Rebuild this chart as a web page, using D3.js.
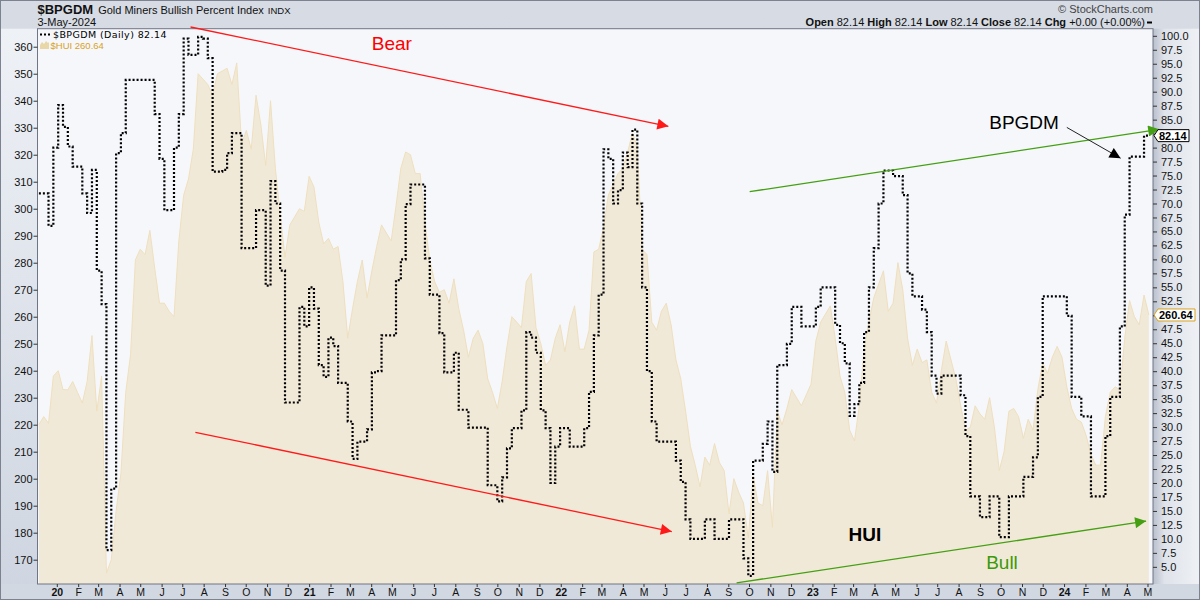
<!DOCTYPE html>
<html><head><meta charset="utf-8">
<script src="https://cdn.jsdelivr.net/npm/d3@7"></script>
<style>body{margin:0;background:#fff}svg{display:block}</style>
</head><body>
<svg id="c" width="1200" height="600"></svg>
<script>
// ---------- DATA (weekly closes, first week ending 2019-12-06) ----------
const firstWeek = "2019-12-06";
const bpgdm = [
71.8,71.8,66,80,87.6,83.7,80.2,76.6,76.6,71.8,
68.3,76,58,52,8,19,79,82.6,92.1,92.1,
92.1,92.1,92.1,92.1,86,78,68.8,68.8,80,86,
99.5,96.6,96.6,99.8,99.5,96,75.7,75.7,76,79,
82.6,82.6,62,62,62,68.8,68.8,55.3,74,70,
58,34.4,34.4,34.4,51.5,48,55,51.2,41.1,39,
46,44.5,37.9,37.9,31,24.3,27.4,27.4,29.6,39.8,
40,46.4,46.4,46.4,56.3,60,69.9,73.4,73.4,73.4,
60.2,53.7,53.7,46.8,39.8,39.8,43.3,33.1,33.1,29.9,
29.9,29.9,29.9,19.6,19.6,16.7,21,26.2,29.8,29.8,
33,47,46,43.3,33,29.8,20,26.5,29.8,29.8,
26.5,26.5,26.5,29.8,36.3,46.4,53.7,79.7,78,70,
72.4,79.1,76.5,83.2,70,55,40,31,27.4,27.4,
27.4,27.4,24,20.2,13.5,10,10,10,13.5,13.5,
10,10,10,13.5,13.5,13.5,6.5,3.4,24,24,
27,31,22,41.1,41.1,44.9,51.5,51.5,48,48,
48,51.5,55,55,55,48.3,45,41.4,32,34.1,
37.9,47,55,62,70,75.9,75.9,74.9,74.9,71.5,
57.5,53.4,53.4,51,47,39.2,36,39.2,39.2,39.2,
39.2,35.7,28.4,17.6,17.6,13.9,13.9,17.6,17.6,10.3,
10.3,17.6,17.6,17.6,21.1,21.1,24.6,35.4,53.4,53.4,
53.4,53.4,53.4,49.9,35.4,35.4,31.9,31.9,17.6,17.6,
17.6,28.4,35.4,35.4,48,68,78.4,78.4,78.4,82.14,
82.14];
const hui = [
220,223,220.5,238,240,233,232.9,236,232,228,
236,253,225,238,165,170,188,202,232,246,
281,285,283,292,278,265,265,262,260,288,
305,311,322,350,348,346,342,350,351,352,
346,354,324,329,322,342,331,316,340,315,
298,282,294,297,300,299,312,308,295,287,
289,285,286,273,252,263,273,281,267,277,
286,294,291,288,301,315,321,320,313,313,
295,281,273,269,270,265,274,263,255,245,
252,255,250,237,232,226,236,249,260,258,
256,273,276,256,250,242,244,252,257,247,
258,264,248,248,255,284,285,293,305,309,
313,315,321,328,323,285,283,258,255,262,
265,257,244,237,225,212,205,197,208,205,
213,206,203,187,200,195,191,178,201,191,
190,203,182,225,220,226,233,230,227,231,
235,251,258,261,264,252,238,232,218,214,
227,248,258,267,272,277,262,265,280,270,
252,242,248,243,244,232,228,240,251,244,
237,227,218,219,227,224,222,230,219,203,
210,225,226,223,215,222,218,233,243,239,
245,249,245,234,226,222,221,216,209,205,
205,223,232,234,233,252,266,260,257,268,
260.64];
const leftTicks = [170,180,190,200,210,220,230,240,250,260,270,280,290,300,310,320,330,340,350,360];
const rightTicks = [5.0,7.5,10.0,12.5,15.0,17.5,20.0,22.5,25.0,27.5,30.0,32.5,35.0,37.5,40.0,42.5,45.0,47.5,50.0,52.5,55.0,57.5,60.0,62.5,65.0,67.5,70.0,72.5,75.0,77.5,80.0,82.5,85.0,87.5,90.0,92.5,95.0,97.5,100.0];
const monthLetters = ["J","F","M","A","M","J","J","A","S","O","N","D"];
const lastBP = 82.14, lastHUI = 260.64;
// annotations in data coordinates (date, HUI-scale value)
const annotations = [
  {color:"#ff1a1a", from:["2020-07-13",367.3], to:["2022-06-06",330.5]},
  {color:"#ff1a1a", from:["2020-07-20",217.2], to:["2022-06-11",180.4]},
  {color:"#44a012", from:["2022-10-02",306.3], to:["2024-05-18",329.4]},
  {color:"#44a012", from:["2022-09-13",161.4], to:["2024-04-29",184.3]},
  {color:"#000000", from:["2024-01-05",330.1], to:["2024-03-23",318.7], thin:true}
];
const labels = [
  {text:"Bear", at:["2021-05-01",360.6], color:"#ff0000", weight:"normal"},
  {text:"BPGDM", at:["2023-11-04",331.4], color:"#000000", weight:"normal"},
  {text:"HUI", at:["2023-03-18",178.8], color:"#000000", weight:"bold"},
  {text:"Bull", at:["2023-10-03",168.4], color:"#3a9a0a", weight:"normal"}
];

// ---------- SETUP ----------
const W = 1200, H = 600;
const L = 37.5, R = 1153, T = 28.7, B = 584;
const svg = d3.select("#c");
const parse = d3.timeParse("%Y-%m-%d");
const dates = bpgdm.map((_, i) => d3.timeDay.offset(parse(firstWeek), 7 * i));

const x = d3.scaleTime().domain([new Date(2019, 11, 4), new Date(2024, 4, 9)]).range([L, R]);
const yL = d3.scaleLinear().domain([161.0, 366.67]).range([B, T]);
const yR = d3.scaleLinear().domain([1.93, 101.27]).range([B, T]);

const defs = svg.append("defs");
const bg = defs.append("linearGradient").attr("id", "bgg").attr("x1", 0).attr("y1", 0).attr("x2", 0).attr("y2", 1);
bg.append("stop").attr("offset", "0%").attr("stop-color", "#d6dbe4");
bg.append("stop").attr("offset", "100%").attr("stop-color", "#d2d8e2");
const rg = defs.append("linearGradient").attr("id", "rg").attr("x1", 0).attr("y1", 0).attr("x2", 1).attr("y2", 0);
rg.append("stop").attr("offset", "0%").attr("stop-color", "#b9c0cd");
rg.append("stop").attr("offset", "25%").attr("stop-color", "#dfe3ea");
rg.append("stop").attr("offset", "100%").attr("stop-color", "#eef0f4");
const lg = defs.append("linearGradient").attr("id", "lg").attr("x1", 0).attr("y1", 0).attr("x2", 0).attr("y2", 1);
lg.append("stop").attr("offset", "0%").attr("stop-color", "#eef1f6");
lg.append("stop").attr("offset", "100%").attr("stop-color", "#cfd6e1");
defs.append("clipPath").attr("id", "clip").append("rect").attr("x", L).attr("y", T).attr("width", R - L).attr("height", B - T);

svg.append("rect").attr("x", 0.5).attr("y", 0.5).attr("width", W - 1).attr("height", H - 1)
  .attr("fill", "url(#bgg)").attr("stroke", "#7c8290");
svg.append("rect").attr("x", 1).attr("y", T).attr("width", L - 1).attr("height", B - T).attr("fill", "url(#lg)");
svg.append("rect").attr("x", R).attr("y", T).attr("width", W - R - 1).attr("height", B - T).attr("fill", "url(#rg)");
svg.append("rect").attr("x", L).attr("y", T).attr("width", R - L).attr("height", B - T).attr("fill", "#f5f7fb");

const plot = svg.append("g").attr("clip-path", "url(#clip)");
const rows = dates.map((d, i) => ({d, bp: bpgdm[i], hui: hui[i]}));
plot.append("path").datum(rows)
  .attr("d", d3.area().x(r => x(r.d)).y0(B).y1(r => yL(r.hui)))
  .attr("fill", "#f1e9d8");
plot.append("path").datum(rows)
  .attr("d", d3.line().x(r => x(r.d)).y(r => yL(r.hui)))
  .attr("fill", "none").attr("stroke", "#efdfbd").attr("stroke-width", 1);
plot.append("path").datum(rows)
  .attr("d", d3.line().x(r => x(r.d)).y(r => yR(r.bp)).curve(d3.curveStepAfter))
  .attr("fill", "none").attr("stroke", "#000").attr("stroke-width", 2.2)
  .attr("stroke-dasharray", "2,2");

svg.append("rect").attr("x", L).attr("y", T).attr("width", R - L).attr("height", B - T)
  .attr("fill", "none").attr("stroke", "#6f7584").attr("stroke-width", 1);

// ---------- annotations ----------
function mk(id, color) {
  defs.append("marker").attr("id", id).attr("viewBox", "0 0 10 10").attr("refX", 10).attr("refY", 5)
    .attr("markerWidth", 13).attr("markerHeight", 11).attr("markerUnits", "userSpaceOnUse").attr("orient", "auto")
    .append("path").attr("d", "M0,0 L10,5 L0,10 z").attr("fill", color);
}
annotations.forEach((a, i) => {
  const id = "m" + i;
  mk(id, a.color);
  svg.append("line")
    .attr("x1", x(parse(a.from[0]))).attr("y1", yL(a.from[1]))
    .attr("x2", x(parse(a.to[0]))).attr("y2", yL(a.to[1]))
    .attr("stroke", a.thin ? "#222" : a.color).attr("stroke-width", a.thin ? 1 : 1.3)
    .attr("marker-end", `url(#${id})`);
});
labels.forEach(l => {
  svg.append("text").attr("x", x(parse(l.at[0]))).attr("y", yL(l.at[1]))
    .attr("text-anchor", "middle").attr("dominant-baseline", "middle")
    .attr("font-family", "Liberation Sans, Arial, sans-serif").attr("font-size", 19)
    .attr("font-weight", l.weight).attr("fill", l.color).text(l.text);
});

// ---------- axes ----------
const fontAx = "Liberation Sans, Arial, sans-serif";
const flagYs = [yR(lastBP), yL(lastHUI)];
const gL = svg.append("g").attr("transform", `translate(${L},0)`)
  .call(d3.axisLeft(yL).tickValues(leftTicks).tickSize(4).tickPadding(1).tickFormat(d3.format("d")));
const gR = svg.append("g").attr("transform", `translate(${R},0)`)
  .call(d3.axisRight(yR).tickValues(rightTicks).tickSize(4).tickPadding(4).tickFormat(d3.format(".1f")));
const months = d3.timeMonth.range(new Date(2020, 0, 1), new Date(2024, 5, 1));
const gB = svg.append("g").attr("transform", `translate(0,${B})`)
  .call(d3.axisBottom(x).tickValues(months).tickSize(3).tickPadding(2)
    .tickFormat(d => d.getMonth() === 0 ? d3.timeFormat("%y")(d) : monthLetters[d.getMonth()]));
[gL, gR, gB].forEach(g => {
  g.select(".domain").remove();
  g.selectAll(".tick line").attr("stroke", "#333");
  g.selectAll("text").attr("font-family", fontAx).attr("font-size", 11).attr("fill", "#111");
});
gR.selectAll(".tick text").filter(d => flagYs.some(fy => Math.abs(yR(d) - fy) < 9)).remove();
gB.selectAll("text").attr("font-size", 10.5)
  .attr("font-weight", d => d.getMonth() === 0 ? "bold" : "normal");

function flag(yv, txt, border, w) {
  const g = svg.append("g");
  g.append("path").attr("d", `M${R + 1},${yv} L${R + 5},${yv - 6} L${R + 5 + w},${yv - 6} L${R + 5 + w},${yv + 6} L${R + 5},${yv + 6} Z`)
    .attr("fill", "#fff").attr("stroke", border).attr("stroke-width", 1);
  g.append("text").attr("x", R + 6).attr("y", yv + 4).attr("font-family", fontAx).attr("font-size", 11)
    .attr("font-weight", "bold").attr("fill", "#000").text(txt);
}
flag(yR(lastBP), d3.format(".2f")(lastBP), "#000", 31);
flag(yL(lastHUI), d3.format(".2f")(lastHUI), "#d9a21e", 37);

// ---------- header ----------
const hdr = svg.append("g").attr("font-family", fontAx).attr("fill", "#111");
const t1 = hdr.append("text").attr("x", L).attr("y", 14).attr("font-size", 13).attr("font-weight", "bold").text("$BPGDM");
const x2 = L + t1.node().getComputedTextLength() + 5;
const t2 = hdr.append("text").attr("x", x2).attr("y", 14).attr("font-size", 11).text("Gold Miners Bullish Percent Index");
hdr.append("text").attr("x", x2 + t2.node().getComputedTextLength() + 4).attr("y", 14).attr("font-size", 9.5).text("INDX");
hdr.append("text").attr("x", L).attr("y", 26).attr("font-size", 11).text("3-May-2024");
hdr.append("text").attr("x", R).attr("y", 13).attr("font-size", 11).attr("text-anchor", "end")
  .attr("fill", "#444").text("© StockCharts.com");
const ohlc = hdr.append("text").attr("x", 1145).attr("y", 26).attr("font-size", 11).attr("text-anchor", "end");
const fmt = d3.format(".2f");
[["Open ", fmt(lastBP) + "  "], ["High ", fmt(lastBP) + "  "], ["Low ", fmt(lastBP) + "  "],
 ["Close ", fmt(lastBP) + "  "], ["Chg ", "+0.00 (+0.00%)"]].forEach(([k, v]) => {
  ohlc.append("tspan").attr("font-weight", "bold").text(k);
  ohlc.append("tspan").text(v);
});
svg.append("line").attr("x1", 1147).attr("x2", 1152).attr("y1", 22.5).attr("y2", 22.5).attr("stroke", "#000").attr("stroke-width", 2);

// legend
const leg = svg.append("g");
leg.append("line").attr("x1", 40).attr("x2", 50).attr("y1", 34.5).attr("y2", 34.5)
  .attr("stroke", "#000").attr("stroke-width", 2).attr("stroke-dasharray", "2,2");
leg.append("text").attr("x", 53).attr("y", 37.5).attr("font-family", "DejaVu Sans, Verdana, sans-serif")
  .attr("font-size", 9.5).attr("letter-spacing", 0.4).attr("fill", "#000").text(`$BPGDM (Daily) ${fmt(lastBP)}`);
leg.append("path").attr("d", "M40,49 L40,45 L42,42 L44,44 L46,41 L48,43 L49,42 L49,49 Z").attr("fill", "#ead7a8");
leg.append("text").attr("x", 50.5).attr("y", 49).attr("font-family", fontAx)
  .attr("font-size", 9.5).attr("fill", "#d9a21e").text(`$HUI ${fmt(lastHUI)}`);
</script>
</body></html>
